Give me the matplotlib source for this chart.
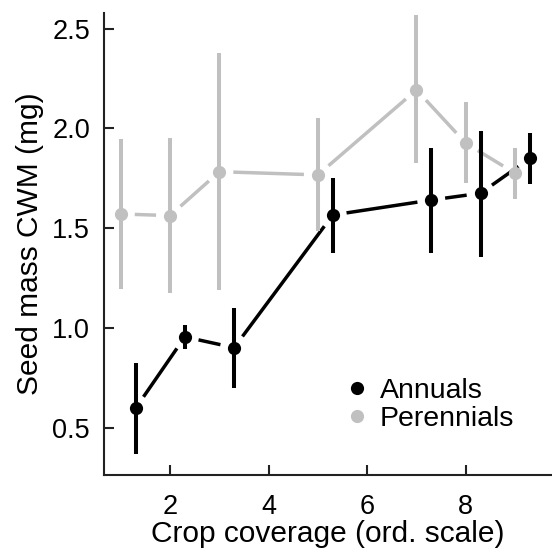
import matplotlib
matplotlib.use("Agg")
import matplotlib.pyplot as plt
import numpy as np

plt.rcParams["font.family"] = ["Liberation Sans", "DejaVu Sans"]

# crop coverage classes (annuals shifted right so bars don't overlap)
x_per = [1, 2, 3, 5, 7, 8, 9]
y_per = [1.571, 1.563, 1.783, 1.767, 2.193, 1.926, 1.775]
lo_per = [1.193, 1.173, 1.190, 1.485, 1.825, 1.725, 1.645]
hi_per = [1.946, 1.951, 2.377, 2.050, 2.569, 2.131, 1.903]

x_ann = [1.3, 2.3, 3.3, 5.3, 7.3, 8.3, 9.3]
y_ann = [0.597, 0.955, 0.901, 1.566, 1.641, 1.675, 1.850]
lo_ann = [0.370, 0.896, 0.700, 1.377, 1.374, 1.354, 1.720]
hi_ann = [0.826, 1.013, 1.098, 1.753, 1.900, 1.989, 1.979]

GREY = "#c0c0c0"
BLACK = "#000000"
GAP_PX = 14  # gap between connecting line and point, in pixels


def gapped_line(ax, xs, ys, color, lw):
    """Connect points like R's type='b': segments stop short of each point."""
    tr = ax.transData
    inv = tr.inverted()
    pts = tr.transform(np.column_stack([xs, ys]))
    for p0, p1 in zip(pts[:-1], pts[1:]):
        d = p1 - p0
        L = np.hypot(*d)
        if L <= 2 * GAP_PX:
            continue
        u = d / L
        a = inv.transform(p0 + u * GAP_PX)
        b = inv.transform(p1 - u * GAP_PX)
        ax.plot([a[0], b[0]], [a[1], b[1]], color=color, lw=lw,
                solid_capstyle="butt", zorder=2)


fig = plt.figure(figsize=(5.52, 5.51), dpi=100)
ax = fig.add_axes([0.188, 0.138, 0.812, 0.839])
ax.set_xlim(0.655, 9.75)
ax.set_ylim(0.263, 2.58)

for xs, ys, lo, hi, col in [(x_per, y_per, lo_per, hi_per, GREY),
                            (x_ann, y_ann, lo_ann, hi_ann, BLACK)]:
    ax.vlines(xs, lo, hi, color=col, lw=2.9, zorder=3)
    gapped_line(ax, xs, ys, col, 2.5)
    ax.plot(xs, ys, "o", color=col, ms=9.5, mec="none", zorder=4)

ax.plot([], [], "o", color=BLACK, ms=9.5, mec="none", label="Annuals")
ax.plot([], [], "o", color=GREY, ms=9.5, mec="none", label="Perennials")
ax.legend(loc="upper left", bbox_to_anchor=(0.514, 0.241), frameon=False,
          fontsize=20.5, handlelength=0.6, handletextpad=0.5,
          labelspacing=0.07, borderpad=0)

for s in ["top", "right"]:
    ax.spines[s].set_visible(False)
for s in ["left", "bottom"]:
    ax.spines[s].set_linewidth(1.5)
    ax.spines[s].set_color("#222222")

ax.set_xticks([2, 4, 6, 8])
ax.set_yticks([0.5, 1.0, 1.5, 2.0, 2.5])
ax.set_yticklabels(["0.5", "1.0", "1.5", "2.0", "2.5"])
ax.tick_params(direction="in", length=7, width=1.5, color="#222222",
               labelsize=19.5, pad=10)
ax.tick_params(axis="x", pad=14)

ax.set_xlabel("Crop coverage (ord. scale)", fontsize=21.5, labelpad=0)
ax.set_ylabel("Seed mass CWM (mg)", fontsize=21.5, labelpad=6)

plt.savefig("out.png", dpi=100)
plt.close(fig)
